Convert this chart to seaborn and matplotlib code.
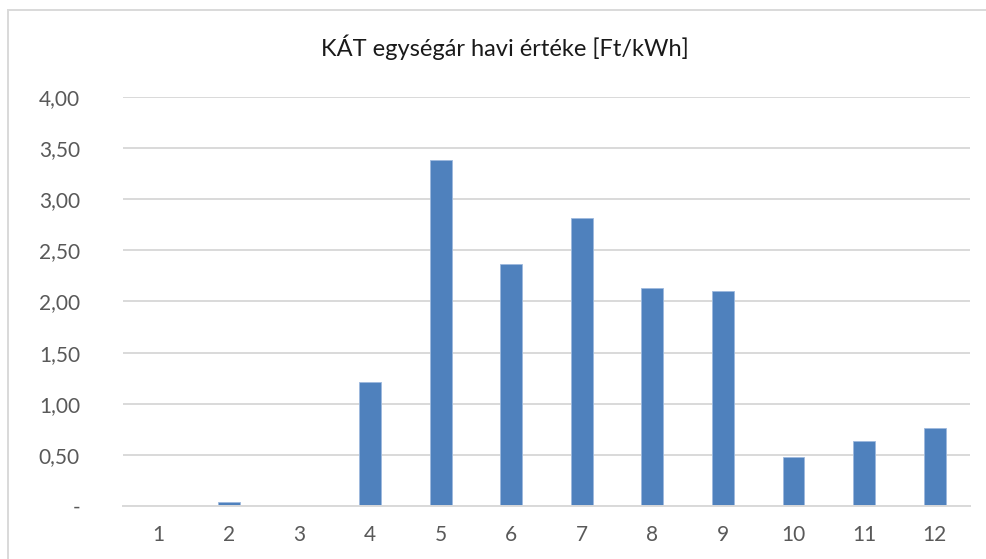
import matplotlib
matplotlib.use("Agg")
import matplotlib.pyplot as plt
import pandas as pd
import seaborn as sns
from matplotlib.patches import Rectangle
from matplotlib.ticker import FuncFormatter

months = [str(m) for m in range(1, 13)]
prices = [0.0, 0.035, 0.0, 1.21, 3.38, 2.37, 2.82, 2.13, 2.10, 0.48, 0.64, 0.76]
y_ticks = [0, 0.5, 1.0, 1.5, 2.0, 2.5, 3.0, 3.5, 4.0]
title = "KÁT egységár havi értéke [Ft/kWh]"

df = pd.DataFrame({"month": months, "price": prices})

sns.set_style("white")
plt.rcParams["font.family"] = ["Lato", "DejaVu Sans"]

fig = plt.figure(figsize=(9.86, 5.59), dpi=100)
ax = fig.add_axes([0.1247, 0.0948, 0.8591, 0.7317])

sns.barplot(data=df, x="month", y="price", order=months, color="#4F81BD",
            saturation=1, width=0.31, ax=ax, edgecolor="#9DB9DE", linewidth=0.6)

ax.set_ylim(0, 4)
ax.set_xlim(-0.5, 11.5)
ax.set_yticks(y_ticks)
ax.yaxis.set_major_formatter(FuncFormatter(
    lambda v, p: "-" if v == 0 else f"{v:.2f}".replace(".", ",")))
ax.grid(axis="y", color="#D9D9D9", linewidth=1.4)
ax.set_axisbelow(True)
for side in ["top", "right", "left"]:
    ax.spines[side].set_visible(False)
ax.spines["bottom"].set_color("#D9D9D9")
ax.spines["bottom"].set_linewidth(1.4)
ax.tick_params(axis="both", length=0, labelsize=15, labelcolor="#595959")
ax.tick_params(axis="y", pad=31)
ax.tick_params(axis="x", pad=14)
ax.set_xlabel("")
ax.set_ylabel("")

fig.text(0.512, 0.916, title, ha="center", va="center", fontsize=17, color="#1a1a1a")

# chart frame
fig.patches.append(Rectangle((8 / 986, -0.05), 1.2, 1.05 - 10 / 559,
                             transform=fig.transFigure, fill=False,
                             edgecolor="#D9D9D9", linewidth=1.4))

fig.savefig("out.png", dpi=100)
